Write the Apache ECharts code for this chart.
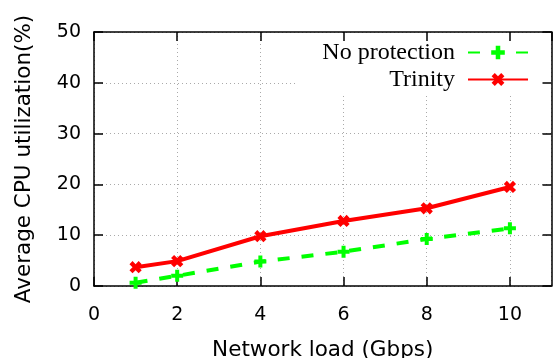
<!DOCTYPE html>
<html>
<head>
<meta charset="utf-8">
<script src="https://cdn.jsdelivr.net/npm/echarts@6/dist/echarts.min.js"></script>
<style>html,body{margin:0;padding:0;background:#fff}#c{width:553px;height:358px}</style>
</head>
<body>
<div id="c"></div>
<script>
const loads = [1, 2, 4, 6, 8, 10];
const noProtection = [0.65, 2.0, 4.8, 6.75, 9.25, 11.35];
const trinity = [3.7, 4.9, 9.8, 12.8, 15.3, 19.5];
const seriesNames = ['No protection', 'Trinity'];
const xTitle = 'Network load (Gbps)';
const yTitle = 'Average CPU utilization(%)';

const plusPath = 'path://M4,0H8V4H12V8H8V12H4V8H0V4H4Z';
const sans = 'DejaVu Sans';
const chart = echarts.init(document.getElementById('c'), null, {renderer: 'canvas'});
const pairs = arr => loads.map((x, i) => [x, arr[i]]);

chart.setOption({
  animation: false,
  backgroundColor: '#fff',
  grid: {left: 94, top: 32, right: 1.5, bottom: 72, containLabel: false, outerBoundsMode: 'none'},
  legend: {
    data: seriesNames,
    orient: 'vertical',
    align: 'right',
    right: 2,
    top: 33,
    padding: [6, 22, 2, 27],
    backgroundColor: '#fff',
    itemWidth: 60,
    itemHeight: 17,
    itemGap: 0,
    textStyle: {fontFamily: 'Liberation Serif', fontSize: 24, color: '#000', lineHeight: 27, padding: [0, 8, 0, 0]}
  },
  xAxis: [{
    type: 'value', min: 0, max: 11, interval: 2,
    name: xTitle, nameLocation: 'middle', nameGap: 53,
    nameTextStyle: {fontFamily: sans, fontSize: 21.5, color: '#000'},
    axisLine: {show: true, onZero: false, lineStyle: {color: '#000', width: 1.5}},
    axisTick: {show: true, inside: true, length: 9, lineStyle: {color: '#000', width: 1.5}},
    axisLabel: {fontFamily: sans, fontSize: 19, color: '#000', margin: 20, showMaxLabel: false},
    splitLine: {show: true, lineStyle: {color: '#aaa', width: 1, type: [1, 3]}}
  }, {
    type: 'value', min: 0, max: 11, interval: 2, position: 'top', z: 10,
    axisLine: {show: true, onZero: false, lineStyle: {color: '#000', width: 1.5}},
    axisTick: {show: true, inside: true, length: 9, lineStyle: {color: '#000', width: 1.5}},
    axisLabel: {show: false},
    splitLine: {show: false}
  }],
  yAxis: [{
    type: 'value', min: 0, max: 50, interval: 10,
    name: yTitle, nameLocation: 'middle', nameGap: 59,
    nameTextStyle: {fontFamily: sans, fontSize: 21.5, color: '#000'},
    axisLine: {show: true, onZero: false, lineStyle: {color: '#000', width: 1.5}},
    axisTick: {show: true, inside: true, length: 9, lineStyle: {color: '#000', width: 1.5}},
    axisLabel: {fontFamily: sans, fontSize: 19, color: '#000', margin: 13},
    splitLine: {show: true, lineStyle: {color: '#aaa', width: 1, type: [1, 3]}}
  }, {
    type: 'value', min: 0, max: 50, interval: 10, position: 'right', z: 10,
    axisLine: {show: true, onZero: false, lineStyle: {color: '#000', width: 1.5}},
    axisTick: {show: true, inside: true, length: 9, lineStyle: {color: '#000', width: 1.5}},
    axisLabel: {show: false},
    splitLine: {show: false}
  }],
  series: [{
    name: seriesNames[0], type: 'line', data: pairs(noProtection),
    symbol: plusPath, symbolSize: 12,
    lineStyle: {color: '#00ff00', width: 4, type: [12, 12]},
    itemStyle: {color: '#00ff00'}, z: 3
  }, {
    name: seriesNames[1], type: 'line', data: pairs(trinity),
    symbol: plusPath, symbolSize: 13, symbolRotate: 45,
    lineStyle: {color: '#ff0000', width: 4},
    itemStyle: {color: '#ff0000'}, z: 4
  }]
});
</script>
</body>
</html>
